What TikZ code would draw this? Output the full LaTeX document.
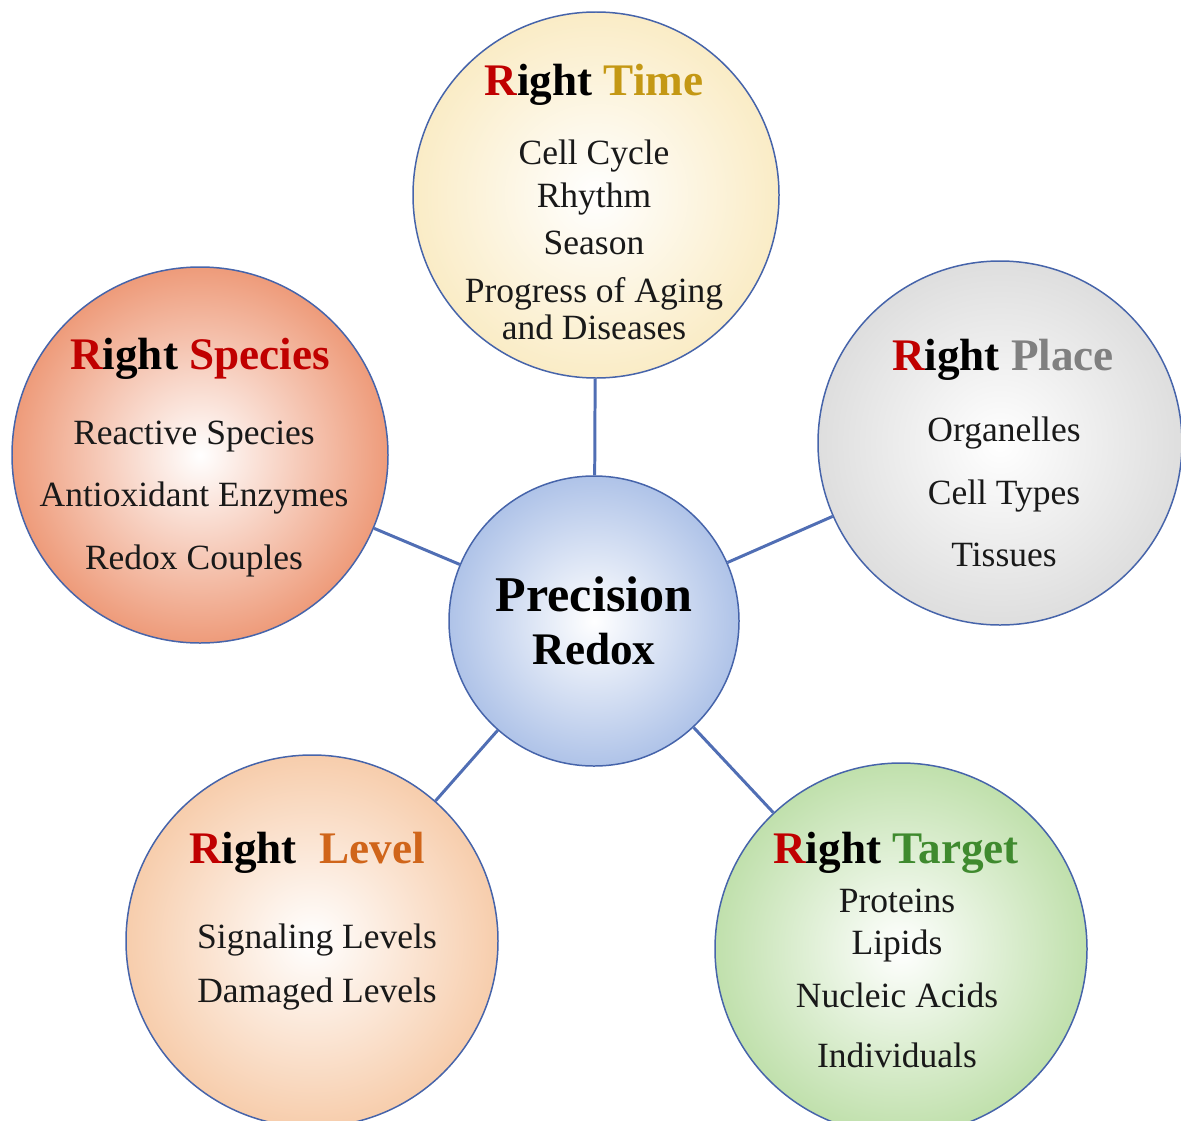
\documentclass[tikz,border=0pt]{standalone}
\usepackage{fontspec}
\setmainfont{Liberation Serif}

\definecolor{rightred}{RGB}{192,0,0}
\definecolor{timegold}{RGB}{196,152,20}
\definecolor{placegray}{RGB}{128,128,128}
\definecolor{levelorange}{RGB}{208,101,26}
\definecolor{targetgreen}{RGB}{63,138,46}
\definecolor{ringblue}{RGB}{70,100,170}
\definecolor{linkblue}{RGB}{80,110,180}
\definecolor{redoxfill}{RGB}{175,195,232}
\definecolor{timefill}{RGB}{250,236,198}
\definecolor{speciesfill}{RGB}{238,155,122}
\definecolor{placefill}{RGB}{222,222,222}
\definecolor{levelfill}{RGB}{247,205,172}
\definecolor{targetfill}{RGB}{192,224,172}

\newcommand{\rightR}{\textcolor{rightred}{R}ight}

\begin{document}
\begin{tikzpicture}

        \useasboundingbox (0,0) rectangle (23.62,-22.4);

        \begin{scope}[every node/.style={circle,draw=ringblue,line width=0.85pt,inner color=white}]
          \node[outer color=redoxfill,minimum size=5.8cm]    (0)  at (11.88,-12.42) {};
          \node[outer color=timefill,minimum size=7.32cm]    (1)  at (11.92,-3.90)  {};
          \node[outer color=placefill,minimum size=7.28cm]   (2)  at (20.0,-8.86)   {};
          \node[outer color=targetfill,minimum size=7.44cm]  (3)  at (18.02,-18.98) {};
          \node[outer color=levelfill,minimum size=7.44cm]   (4)  at (6.24,-18.82)  {};
          \node[outer color=speciesfill,minimum size=7.52cm] (5)  at (4.0,-9.1)     {};
        \end{scope}

        \begin{scope}[every node/.style={align=center,font=\fontsize{25.7}{30}\selectfont\bfseries}]
          \node (0t) at (11.88,-12.42) {\fontsize{28.5}{34}\selectfont Precision\\Redox};
          \node (1t) at (11.88,-1.70)  {\rightR{} \textcolor{timegold}{Time}};
          \node (2t) at (20.06,-7.20)  {\rightR{} \textcolor{placegray}{Place}};
          \node (3t) at (17.92,-17.05) {\rightR{} \textcolor{targetgreen}{Target}};
          \node (4t) at (6.14,-17.05)  {\rightR{}\ \ \textcolor{levelorange}{Level}};
          \node (5t) at (4.0,-7.18)    {\rightR{} \textcolor{rightred}{Species}};
        \end{scope}

        \begin{scope}[every node/.style={align=center,text=black!90,font=\fontsize{20.2}{27}\selectfont}]
          \node (1b) at (11.88,-4.80) {Cell Cycle\\[-0.1cm] Rhythm\\ Season\\ Progress of Aging\\[-0.2cm] and Diseases};
          \node (2b) at (20.08,-9.84) {Organelles\\[0.3cm] Cell Types\\[0.3cm] Tissues};
          \node (3b) at (17.94,-19.56) {Proteins\\[-0.1cm] Lipids\\[0.1cm] Nucleic Acids\\[0.25cm] Individuals};
          \node (4b) at (6.34,-19.34) {Signaling Levels\\[0.15cm] Damaged Levels};
          \node (5b) at (3.88,-9.98)  {Reactive Species\\[0.3cm] Antioxidant Enzymes\\[0.3cm] Redox Couples};
        \end{scope}

        \begin{scope}[every edge/.style={draw=linkblue,line width=1.7pt}]
          \path (0)  edge (1);
          \path (0)  edge (2);
          \path (0)  edge (3);
          \path (0)  edge (4);
          \path (0)  edge (5);
        \end{scope}

      \end{tikzpicture}
\end{document}
